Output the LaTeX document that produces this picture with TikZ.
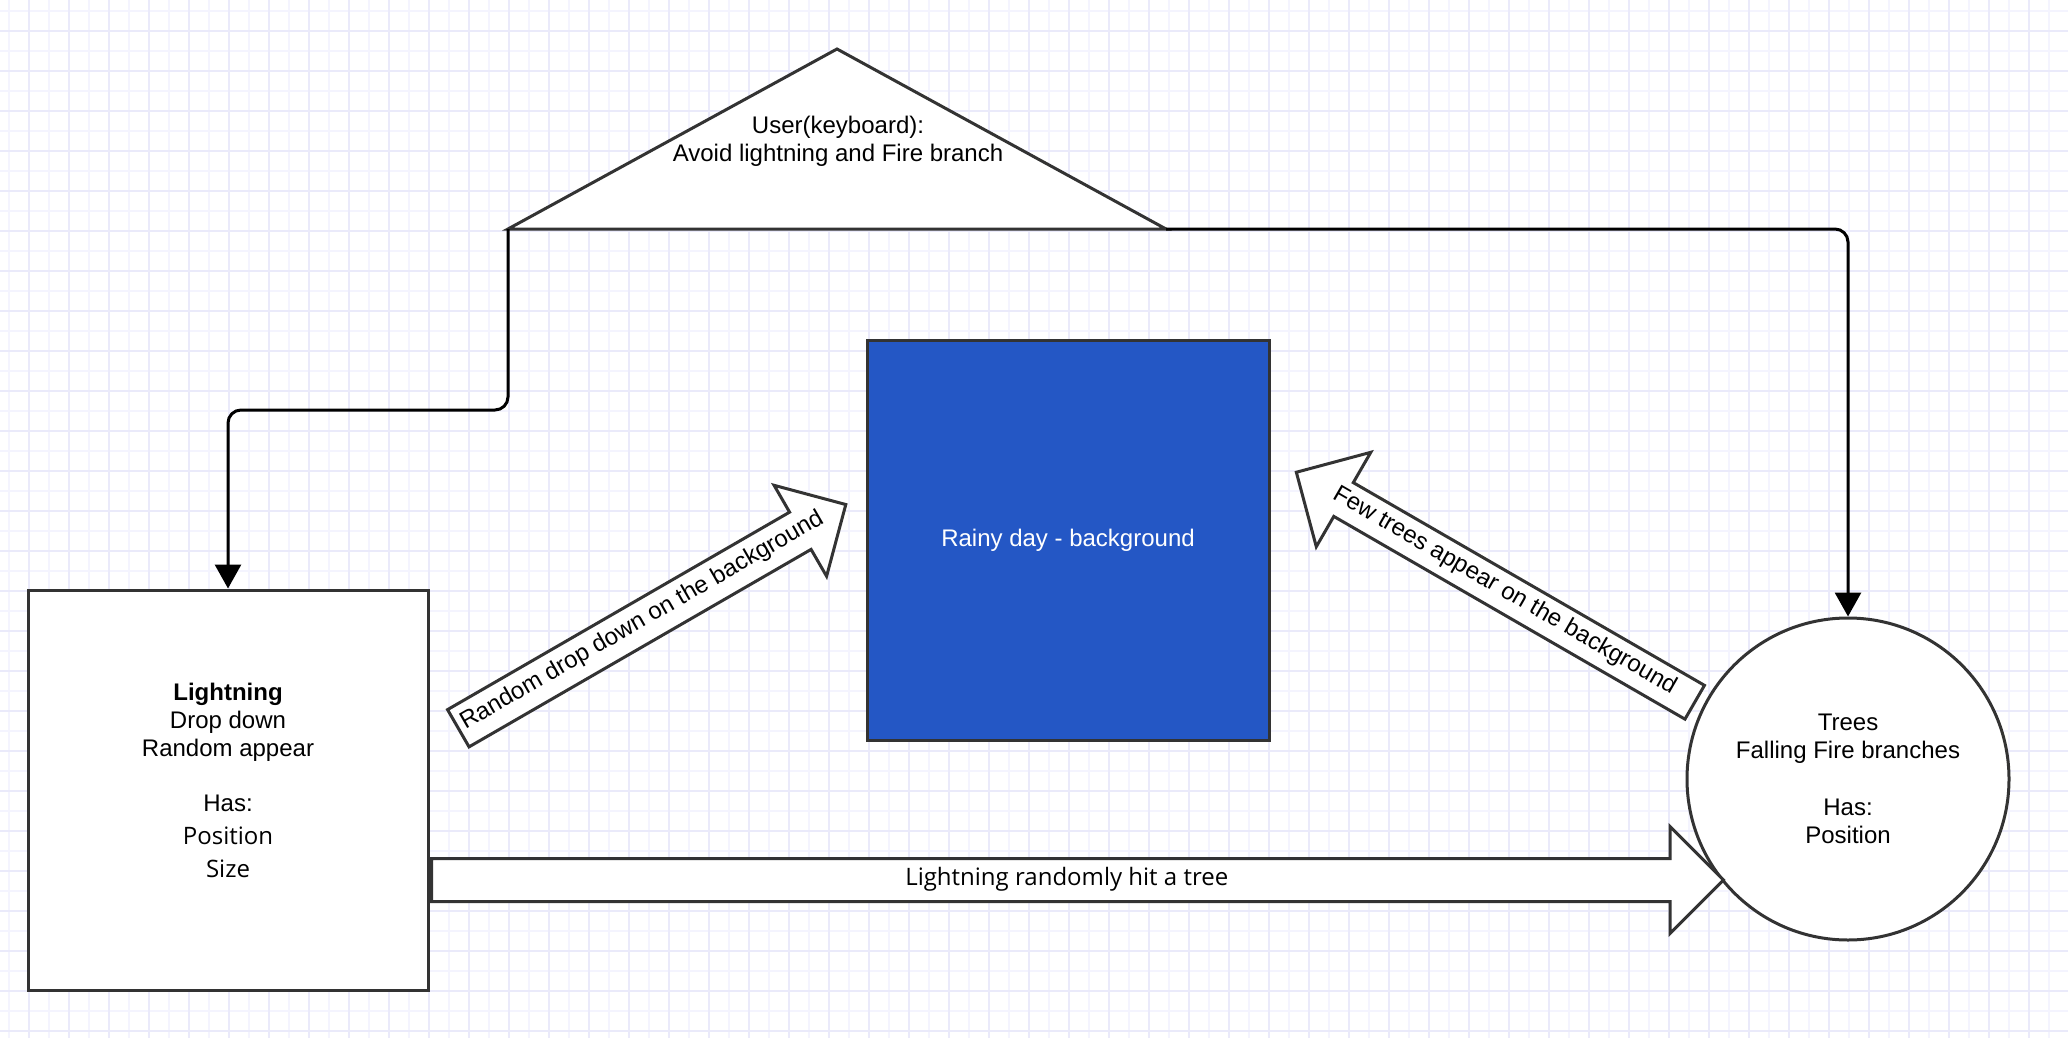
\documentclass[tikz,border=0pt]{standalone}
\usepackage{fontspec}
\setmainfont{Liberation Sans}
\newfontfamily\opensans{Open Sans}
\usetikzlibrary{shapes.arrows,arrows.meta}
\definecolor{rainblue}{HTML}{2457C5}
\definecolor{edgegray}{HTML}{333333}
\definecolor{gridminor}{HTML}{F4F4FE}
\definecolor{gridmajor}{HTML}{EAEAFA}
\tikzset{
  box/.style={draw=edgegray,line width=3pt,fill=white,inner sep=0pt},
  flow/.style n args={2}{draw=edgegray,line width=3pt,fill=white,single arrow,single arrow head extend=#2,
    inner xsep=4pt,inner ysep=#1,text height=16pt,text depth=6pt},
  link/.style={line width=3pt,rounded corners=13pt,-{Triangle[width=26pt,length=24pt]}}
}
\begin{document}
\begin{tikzpicture}[x=1pt,y=1pt,font=\fontsize{24}{28}\selectfont]
\fill[white](0,0)rectangle(2068,-1038);
\useasboundingbox(0,0)rectangle(2068,-1038);
% grid
\draw[gridminor,line width=1.5pt]\foreach \x in {9,49,...,2049}{(\x,0)--(\x,-1038)}
  \foreach \y in {11,51,...,1011}{(0,-\y)--(2068,-\y)};
\draw[gridmajor,line width=1.5pt]\foreach \x in {29,69,...,2029}{(\x,0)--(\x,-1038)}
  \foreach \y in {31,71,...,1031}{(0,-\y)--(2068,-\y)};
% shapes
\coordinate(userL)at(508,-229);
\coordinate(userR)at(1166,-229);
\draw[box](userL)--(837,-49)--(userR)--cycle;
\node[align=center](user)at(838,-141){User(keyboard):\\Avoid lightning and Fire branch};
\node[box,minimum width=400pt,minimum height=400pt](lightning)at(228,-790){};
\node[align=center](lightningtxt)at([yshift=10pt]lightning.center){\textbf{Lightning}\\Drop down\\Random appear\\[27pt]Has:\\[5pt]{\opensans Position}\\[5pt]{\opensans Size}};
\node[box,fill=rainblue,text=white,minimum width=402pt,minimum height=400pt](rainy)at(1068,-540){Rainy day - background};
\node[box,circle,minimum size=322pt,align=center](trees)at(1848,-779){Trees\\Falling Fire branches\\[29pt]Has:\\Position};
% flows
\node[flow={9pt}{31pt},minimum height=440pt,rotate=30,anchor=tail](flowdrop)at(457,-729){Random drop down on the background};
\node[flow={7pt}{35pt},minimum height=460pt,shape border rotate=180,rotate=-30,anchor=tail](flowtrees)at(1696,-703){Few trees appear on the background};
\node[flow={9pt}{32pt},minimum height=1292pt,anchor=tail,font=\fontsize{24}{28}\opensans](flowhit)at(430,-880){Lightning randomly hit a tree};
% links
\draw[link](userL)--(508,-410)-|(lightning.north);
\draw[link](userR)-|(trees.north);
\end{tikzpicture}
\end{document}
